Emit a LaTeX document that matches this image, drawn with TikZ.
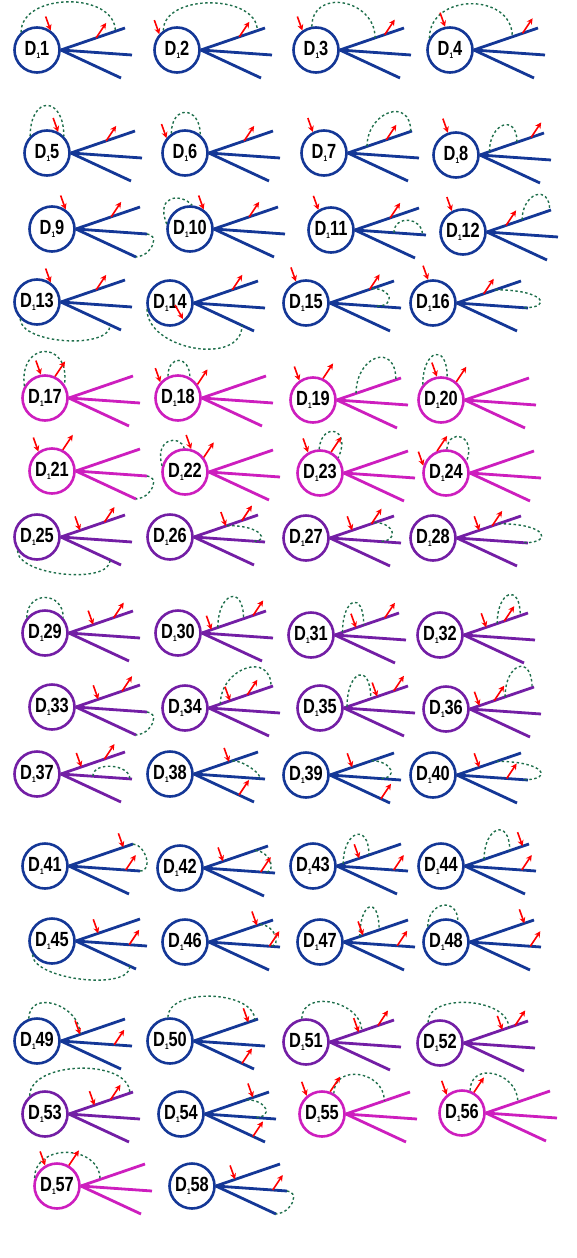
\documentclass[tikz,border=0pt]{standalone}
\usepackage{fontspec}
\newfontfamily\dfont[FakeStretch=0.8]{Liberation Sans}
\usetikzlibrary{calc,arrows.meta}
\definecolor{dblue}{RGB}{20,55,150}
\definecolor{dmag}{RGB}{205,30,190}
\definecolor{dpurp}{RGB}{115,30,165}
\definecolor{dgreen}{RGB}{30,110,75}
\tikzset{
  dnode/.style={circle,line width=2.6pt,minimum size=45pt,inner sep=0pt,fill=white,
    font=\dfont\bfseries\fontsize{20.5}{22}\selectfont},
  leg/.style={line width=2.8pt},
  redarr/.style={red,line width=1.6pt,-{Stealth[length=6pt,width=6pt]}},
  dasharc/.style={dgreen,line width=1.4pt,dash pattern=on 2.5pt off 2.5pt},
}
% one diagram: circle node d<n> and three legs
\newcommand{\dglyph}[4]{%
  \node[dnode,draw=#4] (d#1) at (#2,-#3) {D\raisebox{-2.5pt}{\fontsize{8}{8}\selectfont 1}#1};
  \coordinate (d#1t) at ($(d#1)+(88,22)$);
  \coordinate (d#1m) at ($(d#1)+(95,-5)$);
  \coordinate (d#1b) at ($(d#1)+(84,-28)$);
  \draw[leg,#4] (d#1.east) -- (d#1t);
  \draw[leg,#4] (d#1.east) -- (d#1m);
  \draw[leg,#4] (d#1.east) -- (d#1b);
}
\newcommand{\inarr}[1]{\draw[redarr] ($#1+(-5,14)$) -- ($#1$);}
\newcommand{\outarr}[1]{\draw[redarr] ($#1$) -- ($#1+(10,15)$);}
\newcommand{\arcup}[3]{\draw[dasharc] ($#1$) .. controls +(0,#3) and +(0,#3) .. ($#2$);}
\newcommand{\dloop}[4]{\draw[dasharc] ($#1$) .. controls +#2 and +#3 .. ($#4$);}
\begin{document}
\begin{tikzpicture}[x=1pt,y=1pt]
\useasboundingbox (0,0) rectangle (576,-1258);

% row 1
\dglyph{1}{37}{50}{dblue}
\arcup{(d1.132)}{(d1.east)!.85!(d1t)}{40}
\inarr{(d1.55)}
\outarr{(d1.east)!.55!(d1t)}
\dglyph{2}{177}{50}{dblue}
\arcup{(d2.125)}{(d2.east)!.88!(d2t)}{37}
\inarr{(d2.138)}
\outarr{(d2.east)!.6!(d2t)}
\dglyph{3}{316}{50}{dblue}
\arcup{(d3.100)}{(d3.east)!.55!(d3t)}{39}
\inarr{(d3.125)}
\outarr{(d3.east)!.7!(d3t)}
\dglyph{4}{450}{50}{dblue}
\arcup{(d4.150)}{(d4.east)!.6!(d4t)}{45}
\inarr{(d4.102)}
\outarr{(d4.east)!.76!(d4t)}

% row 2
\dglyph{5}{47}{153}{dblue}
\arcup{(d5.135)}{(d5.45)}{41}
\inarr{(d5.62)}
\outarr{(d5.east)!.55!(d5t)}
\dglyph{6}{185}{153}{dblue}
\arcup{(d6.125)}{(d6.50)}{29}
\inarr{(d6.141)}
\outarr{(d6.east)!.55!(d6t)}
\dglyph{7}{324}{153}{dblue}
\arcup{(d7.east)!.3!(d7t)}{(d7.east)!.98!(d7t)}{35}
\inarr{(d7.118)}
\outarr{(d7.east)!.6!(d7t)}
\dglyph{8}{456}{155}{dblue}
\arcup{(d8.east)!.15!(d8t)}{(d8.east)!.58!(d8t)}{29}
\inarr{(d8.110)}
\outarr{(d8.east)!.8!(d8t)}

% row 3
\dglyph{9}{52}{229}{dblue}
\dloop{(d9m)}{(12,0)}{(18,2)}{(d9b)}
\inarr{(d9.55)}
\outarr{(d9.east)!.55!(d9t)}
\dglyph{10}{190}{229}{dblue}
\dloop{(d10.168)}{(-12,30)}{(-10,12)}{(d10.85)}
\inarr{(d10.55)}
\outarr{(d10.east)!.55!(d10t)}
\dglyph{11}{331}{230}{dblue}
\arcup{(d11.east)!.55!(d11m)}{(d11.east)!.95!(d11m)}{18}
\inarr{(d11.122)}
\outarr{(d11.east)!.55!(d11t)}
\dglyph{12}{463}{232}{dblue}
\arcup{(d12.east)!.55!(d12t)}{(d12.east)!.98!(d12t)}{27}
\inarr{(d12.118)}
\outarr{(d12.east)!.3!(d12t)}

% row 4
\dglyph{13}{37}{302}{dblue}
\arcup{(d13.225)}{(d13.east)!.82!(d13b)}{-25}
\inarr{(d13.55)}
\outarr{(d13.east)!.55!(d13t)}
\dglyph{14}{170}{303}{dblue}
\arcup{(d14.195)}{(d14.east)!.8!(d14b)}{-41}
\draw[redarr] ($(d14)+(5,-2)$) -- ($(d14)+(13,-16)$);
\outarr{(d14.east)!.6!(d14t)}
\dglyph{15}{306}{303}{dblue}
\dloop{(d15.east)!.66!(d15t)}{(20,0)}{(20,0)}{(d15.east)!.65!(d15m)}
\inarr{(d15.115)}
\outarr{(d15.east)!.62!(d15t)}
\dglyph{16}{433}{303}{dblue}
\dloop{(d16.east)!.6!(d16t)}{(50,0)}{(28,0)}{(d16.east)!.95!(d16m)}
\inarr{(d16.102)}
\outarr{(d16.east)!.42!(d16t)}

% row 5
\dglyph{17}{45}{398}{dmag}
\dloop{(d17.150)}{(-6,45)}{(6,45)}{(d17.35)}
\inarr{(d17.100)}
\outarr{(d17.65)}
\dglyph{18}{178}{398}{dmag}
\arcup{(d18.115)}{(d18.60)}{22}
\inarr{(d18.138)}
\outarr{(d18.35)}
\dglyph{19}{313}{400}{dmag}
\arcup{(d19.east)!.3!(d19t)}{(d19.east)!.92!(d19t)}{38}
\inarr{(d19.125)}
\outarr{(d19.65)}
\dglyph{20}{441}{400}{dmag}
\arcup{(d20.140)}{(d20.75)}{35}
\inarr{(d20.100)}
\outarr{(d20.50)}

% row 6
\dglyph{21}{52}{471}{dmag}
\dloop{(d21m)}{(12,0)}{(18,2)}{(d21b)}
\inarr{(d21.125)}
\outarr{(d21.63)}
\dglyph{22}{185}{472}{dmag}
\dloop{(d22.165)}{(-8,28)}{(-4,14)}{(d22.92)}
\inarr{(d22.75)}
\outarr{(d22.38)}
\dglyph{23}{320}{473}{dmag}
\dloop{(d23.92)}{(2,28)}{(14,30)}{(d23.40)}
\inarr{(d23.120)}
\outarr{(d23.62)}
\dglyph{24}{446}{473}{dmag}
\dloop{(d24.88)}{(2,22)}{(10,26)}{(d24.30)}
\inarr{(d24.162)}
\outarr{(d24.112)}

% row 7
\dglyph{25}{37}{537}{dpurp}
\arcup{(d25.215)}{(d25.east)!.82!(d25b)}{-25}
\inarr{(d25.east)!.3!(d25t)}
\outarr{(d25.east)!.68!(d25t)}
\dglyph{26}{170}{537}{dpurp}
\dloop{(d26.east)!.52!(d26t)}{(36,0)}{(14,0)}{(d26.east)!.85!(d26m)}
\inarr{(d26.east)!.5!(d26t)}
\outarr{(d26.east)!.75!(d26t)}
\dglyph{27}{306}{538}{dpurp}
\dloop{(d27.east)!.7!(d27t)}{(20,0)}{(20,0)}{(d27.east)!.7!(d27m)}
\inarr{(d27.east)!.35!(d27t)}
\outarr{(d27.east)!.65!(d27t)}
\dglyph{28}{433}{538}{dpurp}
\dloop{(d28.east)!.65!(d28t)}{(50,0)}{(28,0)}{(d28.east)!.95!(d28m)}
\inarr{(d28.east)!.35!(d28t)}
\outarr{(d28.east)!.55!(d28t)}

% row 8
\dglyph{29}{45}{633}{dpurp}
\arcup{(d29.140)}{(d29.40)}{27}
\inarr{(d29.east)!.38!(d29t)}
\outarr{(d29.east)!.7!(d29t)}
\dglyph{30}{178}{633}{dpurp}
\arcup{(d30.east)!.25!(d30t)}{(d30.east)!.65!(d30t)}{35}
\inarr{(d30.east)!.15!(d30t)}
\outarr{(d30.east)!.8!(d30t)}
\dglyph{31}{311}{635}{dpurp}
\arcup{(d31.east)!.12!(d31t)}{(d31.east)!.45!(d31t)}{35}
\inarr{(d31.east)!.33!(d31t)}
\outarr{(d31.east)!.78!(d31t)}
\dglyph{32}{440}{635}{dpurp}
\arcup{(d32.east)!.52!(d32t)}{(d32.east)!.88!(d32t)}{33}
\inarr{(d32.east)!.35!(d32t)}
\outarr{(d32.east)!.63!(d32t)}

% row 9
\dglyph{33}{52}{707}{dpurp}
\dloop{(d33m)}{(12,0)}{(18,2)}{(d33b)}
\inarr{(d33.east)!.35!(d33t)}
\outarr{(d33.east)!.72!(d33t)}
\dglyph{34}{185}{708}{dpurp}
\arcup{(d34.east)!.18!(d34t)}{(d34.east)!.97!(d34t)}{36}
\inarr{(d34.east)!.33!(d34t)}
\outarr{(d34.east)!.6!(d34t)}
\dglyph{35}{320}{708}{dpurp}
\arcup{(d35.east)!.05!(d35t)}{(d35.east)!.42!(d35t)}{37}
\inarr{(d35.east)!.52!(d35t)}
\outarr{(d35.east)!.78!(d35t)}
\dglyph{36}{446}{709}{dpurp}
\arcup{(d36.east)!.55!(d36t)}{(d36.east)!.97!(d36t)}{34}
\inarr{(d36.east)!.15!(d36t)}
\outarr{(d36.east)!.38!(d36t)}

% row 10
\dglyph{37}{37}{774}{dpurp}
\arcup{(d37.east)!.45!(d37m)}{(d37.east)!.97!(d37m)}{15}
\inarr{(d37.east)!.32!(d37t)}
\outarr{(d37.east)!.68!(d37t)}
\dglyph{38}{170}{774}{dblue}
\dloop{(d38.east)!.6!(d38t)}{(14,0)}{(8,0)}{(d38.east)!.9!(d38m)}
\inarr{(d38.east)!.55!(d38t)}
\outarr{(d38.east)!.75!(d38b)}
\dglyph{39}{306}{775}{dblue}
\dloop{(d39.east)!.65!(d39t)}{(20,0)}{(20,0)}{(d39.east)!.7!(d39m)}
\inarr{(d39.east)!.35!(d39t)}
\outarr{(d39.east)!.85!(d39b)}
\dglyph{40}{433}{775}{dblue}
\dloop{(d40.east)!.62!(d40t)}{(50,0)}{(28,0)}{(d40.east)!.95!(d40m)}
\inarr{(d40.east)!.35!(d40t)}
\outarr{(d40.east)!.7!(d40m)}

% row 11
\dglyph{41}{45}{866}{dblue}
\dloop{(d41t)}{(12,0)}{(14,0)}{(d41m)}
\inarr{(d41.east)!.85!(d41t)}
\outarr{(d41.east)!.8!(d41m)}
\dglyph{42}{180}{868}{dblue}
\dloop{(d42.east)!.8!(d42t)}{(14,0)}{(14,0)}{(d42.east)!.85!(d42m)}
\inarr{(d42.east)!.3!(d42t)}
\outarr{(d42.east)!.8!(d42m)}
\dglyph{43}{313}{866}{dblue}
\arcup{(d43.east)!.1!(d43t)}{(d43.east)!.5!(d43t)}{33}
\inarr{(d43.east)!.35!(d43t)}
\outarr{(d43.east)!.8!(d43m)}
\dglyph{44}{441}{866}{dblue}
\arcup{(d44.east)!.3!(d44t)}{(d44.east)!.7!(d44t)}{33}
\inarr{(d44.east)!.9!(d44t)}
\outarr{(d44.east)!.8!(d44m)}

% row 12
\dglyph{45}{52}{941}{dblue}
\arcup{(d45.215)}{(d45.east)!.9!(d45b)}{-25}
\inarr{(d45.east)!.35!(d45t)}
\outarr{(d45.east)!.75!(d45m)}
\dglyph{46}{185}{942}{dblue}
\dloop{(d46.east)!.8!(d46t)}{(14,0)}{(14,0)}{(d46.east)!.85!(d46m)}
\inarr{(d46.east)!.75!(d46t)}
\outarr{(d46.east)!.85!(d46m)}
\dglyph{47}{320}{942}{dblue}
\arcup{(d47.east)!.25!(d47t)}{(d47.east)!.55!(d47t)}{35}
\inarr{(d47.east)!.3!(d47t)}
\outarr{(d47.east)!.75!(d47m)}
\dglyph{48}{446}{942}{dblue}
\arcup{(d48.140)}{(d48.60)}{25}
\inarr{(d48.east)!.85!(d48t)}
\outarr{(d48.east)!.85!(d48m)}

% row 13
\dglyph{49}{37}{1041}{dblue}
\arcup{(d49.110)}{(d49.east)!.3!(d49t)}{30}
\inarr{(d49.east)!.3!(d49t)}
\outarr{(d49.east)!.75!(d49m)}
\dglyph{50}{170}{1041}{dblue}
\arcup{(d50.95)}{(d50.east)!.95!(d50t)}{30}
\inarr{(d50.east)!.85!(d50t)}
\outarr{(d50.east)!.8!(d50b)}
\dglyph{51}{306}{1042}{dpurp}
\arcup{(d51.100)}{(d51.east)!.5!(d51t)}{30}
\inarr{(d51.east)!.45!(d51t)}
\outarr{(d51.east)!.75!(d51t)}
\dglyph{52}{440}{1043}{dpurp}
\arcup{(d52.120)}{(d52.east)!.7!(d52t)}{30}
\inarr{(d52.east)!.6!(d52t)}
\outarr{(d52.east)!.8!(d52t)}

% row 14
\dglyph{53}{45}{1114}{dpurp}
\arcup{(d53.130)}{(d53.east)!.95!(d53t)}{35}
\inarr{(d53.east)!.4!(d53t)}
\outarr{(d53.east)!.65!(d53t)}
\dglyph{54}{181}{1114}{dblue}
\dloop{(d54.east)!.65!(d54t)}{(20,0)}{(20,0)}{(d54.east)!.7!(d54m)}
\inarr{(d54.east)!.75!(d54t)}
\outarr{(d54.east)!.8!(d54b)}
\dglyph{55}{322}{1114}{dmag}
\arcup{(d55.60)}{(d55.east)!.6!(d55t)}{30}
\inarr{(d55.130)}
\outarr{(d55.70)}
\dglyph{56}{462}{1113}{dmag}
\arcup{(d56.70)}{(d56.east)!.5!(d56t)}{30}
\inarr{(d56.130)}
\outarr{(d56.60)}

% row 15
\dglyph{57}{57}{1186}{dmag}
\arcup{(d57.160)}{(d57.east)!.3!(d57t)}{35}
\inarr{(d57.120)}
\outarr{(d57.60)}
\dglyph{58}{192}{1186}{dblue}
\dloop{(d58m)}{(12,0)}{(18,2)}{(d58b)}
\inarr{(d58.east)!.3!(d58t)}
\outarr{(d58.east)!.8!(d58m)}
\end{tikzpicture}
\end{document}
